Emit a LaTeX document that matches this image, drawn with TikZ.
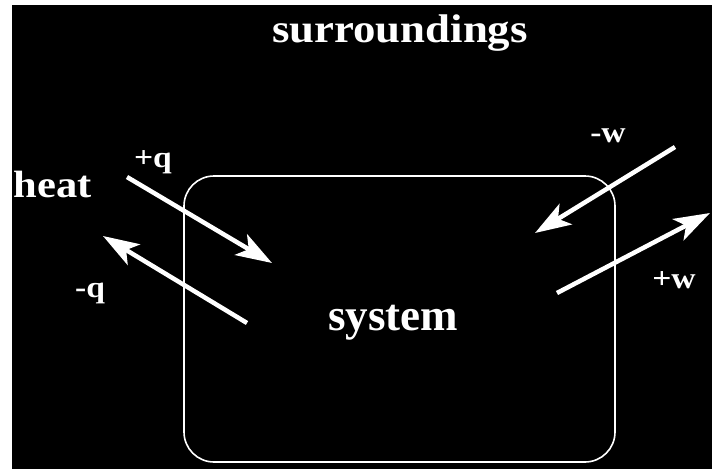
\documentclass[tikz,border=0pt]{standalone}
\usepackage{fontspec}
\setmainfont{Liberation Serif}
\usepackage{graphicx}
\usetikzlibrary{arrows.meta}
\tikzset{
  lbl/.style={text=white, inner sep=0pt, anchor=base},
  big/.style={lbl, font=\bfseries\fontsize{40}{40}\selectfont},
  small/.style={lbl, font=\bfseries\fontsize{30}{30}\selectfont},
  flow/.style={white, line width=4.5pt,
    -{Stealth[length=36pt, width=24pt, inset=9pt]}},
  sysbox/.style={white, line width=1.6pt, rounded corners=30pt},
}
\newcommand{\wide}[1]{\scalebox{1.12}[1]{#1}}

\begin{document}
\begin{tikzpicture}[x=1pt, y=-1pt]

  % page and black field
  \useasboundingbox[fill=white] (0,0) rectangle (712,469);
  \fill[black] (12,5) rectangle (712,469);

  % the system
  \draw[sysbox] (184,176) rectangle (615,462);
  \node[lbl, font=\bfseries\fontsize{45}{45}\selectfont] (sys) at (393,330) {system};

  \node[big] (surr) at (400,42) {\wide{surroundings}};
  \node[big, font=\bfseries\fontsize{38}{38}\selectfont] (heat) at (53,197) {\wide{heat}};

  % heat arrows
  \coordinate (qinS) at (127,177);
  \coordinate (qinE) at (272,263);
  \coordinate (qoutS) at (247,323);
  \coordinate (qoutE) at (103,236);
  \draw[flow] (qinS) -- (qinE);
  \draw[flow] (qoutS) -- (qoutE);
  \node[small] (qin) at (153,167) {\wide{+q}};
  \node[small] (qout) at (90,297) {\wide{-q}};

  % work arrows
  \coordinate (winS) at (675,147);
  \coordinate (winE) at (535,233);
  \coordinate (woutS) at (557,293);
  \coordinate (woutE) at (710,213);
  \draw[flow] (winS) -- (winE);
  \draw[flow] (woutS) -- (woutE);
  \node[small] (win) at (608,142) {\wide{-w}};
  \node[small] (wout) at (674,288) {\wide{+w}};

\end{tikzpicture}
\end{document}
